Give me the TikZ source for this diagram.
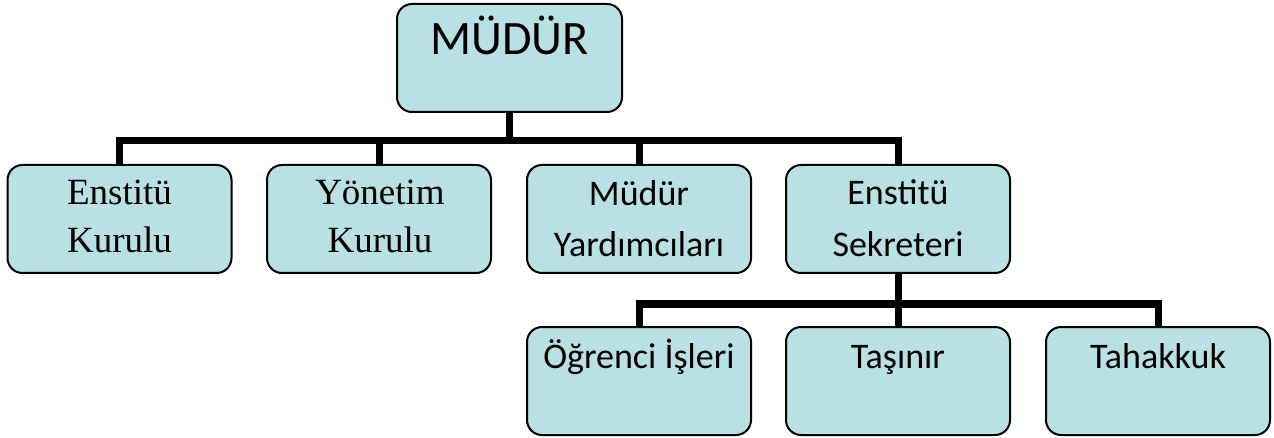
\documentclass[tikz,border=0pt]{standalone}
\usepackage{fontspec}
\setmainfont{Liberation Serif}
\newfontfamily\calibri{Carlito}
\definecolor{boxfill}{RGB}{185,224,227}

\tikzset{
  unit/.style={draw=black, fill=boxfill, rounded corners=15pt, line width=2pt,
    minimum width=224pt, minimum height=108pt, inner sep=0pt},
  bus/.style={line width=7pt, line join=miter},
  serifline/.style={anchor=base, inner sep=0pt, font=\fontsize{37}{44}\selectfont},
  sansline/.style={anchor=base, inner sep=0pt, font=\calibri\fontsize{36}{43}\selectfont},
}

\begin{document}
\begin{tikzpicture}[x=1pt,y=-1pt]
  \useasboundingbox (0,0) rectangle (1274,438);

  % boxes
  \node[unit, minimum width=225pt] (mudur) at (509.5,58) {};
  \node[unit] (kurul)    at (119.5,219) {};
  \node[unit] (yonetim)  at (379,219) {};
  \node[unit] (yardimci) at (639,219) {};
  \node[unit] (sekreter) at (898,219) {};
  \node[unit] (ogrenci)  at (639,381) {};
  \node[unit] (tasinir)  at (898,381) {};
  \node[unit] (tahakkuk) at (1158,381) {};

  % texts
  \node[sansline, font=\calibri\fontsize{48}{58}\selectfont] (mudurT) at (509.5,55) {MÜDÜR};
  \node[serifline] (kurulA) at (119.5,205) {Enstitü};
  \node[serifline] (kurulB) at (119.5,253) {Kurulu};
  \node[serifline] (yonetimA) at (380,205) {Yönetim};
  \node[serifline] (yonetimB) at (380,253) {Kurulu};
  \node[sansline] (yardimciA) at (639,206) {Müdür};
  \node[sansline] (yardimciB) at (639,257) {Yardımcıları};
  \node[sansline] (sekreterA) at (898,205) {Enstitü};
  \node[sansline] (sekreterB) at (898,257) {Sekreteri};
  \node[sansline] (ogrenciT)  at (639,368) {Öğrenci İşleri};
  \node[sansline] (tasinirT)  at (898,368) {Taşınır};
  \node[sansline] (tahakkukT) at (1158,368) {Tahakkuk};

  % connectors
  \coordinate (topbus) at (509.5,141);
  \coordinate (lowbus) at (898,304);
  \draw[bus] (mudur.south) -- (topbus);
  \draw[bus] (kurul.north) |- (topbus) -| (sekreter.north);
  \draw[bus] (yonetim.north) -- (yonetim.north |- topbus);
  \draw[bus] (yardimci.north) -- (yardimci.north |- topbus);
  \draw[bus] (ogrenci.north) |- (lowbus) -| (tahakkuk.north);
  \draw[bus] (sekreter.south) -- (tasinir.north);
\end{tikzpicture}
\end{document}
